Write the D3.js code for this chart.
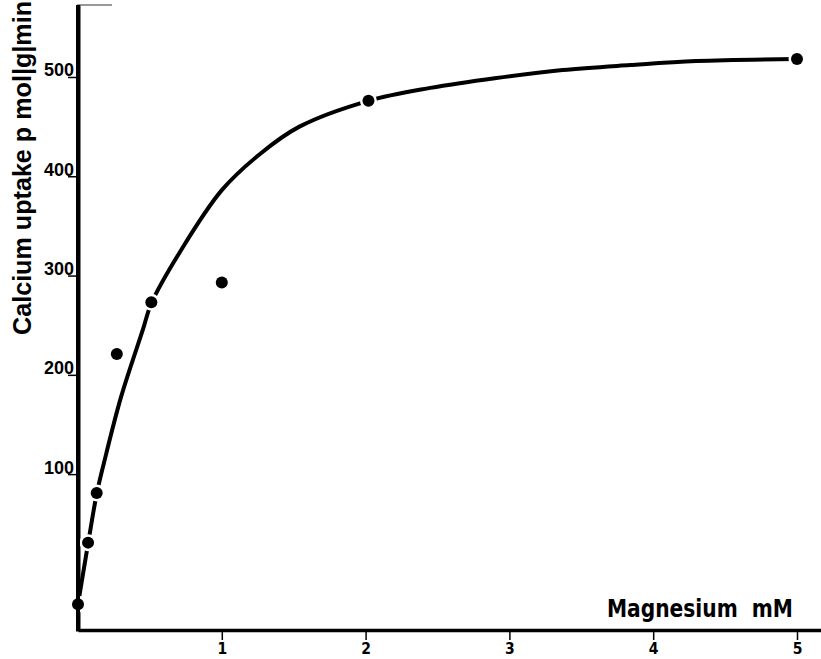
<!DOCTYPE html>
<html>
<head>
<meta charset="utf-8">
<script src="https://cdn.jsdelivr.net/npm/d3@7"></script>
<style>
  html, body { margin: 0; padding: 0; background: #fff; }
  svg { display: block; }
</style>
</head>
<body>
<svg id="chart" width="821" height="659"></svg>
<script>
// Measured uptake (pmol/g/min) at each magnesium concentration (mM)
const magnesium = [0, 0.07, 0.13, 0.27, 0.51, 1.0, 2.02, 5.0];
const uptake    = [-31, 31, 81, 221, 273, 293, 476, 518];

// Hand-fitted saturation curve through the measurements
const curveMg     = [0, 0.07, 0.13, 0.18, 0.30, 0.45, 0.51, 0.71, 1.0, 1.27, 1.54, 2.02, 2.45, 2.91, 3.37, 3.84, 4.30, 5.0];
const curveUptake = [-31, 30, 80, 111, 178, 245, 272, 324, 386, 423, 450, 476, 489, 499, 507, 512, 516, 518];

const xTicks = [1, 2, 3, 4, 5];
const yTicks = [100, 200, 300, 400, 500];

const boldFont = "'Liberation Sans', Arial, Helvetica, sans-serif";
const narrowFont = "'Liberation Sans Narrow', 'DejaVu Sans Condensed', 'Arial Narrow', sans-serif";

const svg = d3.select("#chart");

const x = d3.scaleLinear().domain([0, 5.167]).range([78, 821]);
const y = d3.scaleLinear().domain([-57, 572.5]).range([630, 5]);

// thin frame line along the top
svg.append("line")
  .attr("x1", 77).attr("x2", 112).attr("y1", 5).attr("y2", 5)
  .attr("stroke", "#777").attr("stroke-width", 1.5);

// x axis
const xAxis = svg.append("g")
  .attr("transform", `translate(0,${y.range()[0]})`)
  .call(d3.axisBottom(x).tickValues(xTicks).tickSize(10).tickSizeOuter(0).tickPadding(3).tickFormat(d3.format("d")));
xAxis.select(".domain").attr("stroke", "#000").attr("stroke-width", 3.5);
xAxis.selectAll(".tick line").attr("stroke", "#000").attr("stroke-width", 1.5);
xAxis.selectAll(".tick text")
  .style("font-family", narrowFont).style("font-weight", "bold")
  .style("font-size", "15.5px").attr("fill", "#000");

// y axis: labels sit on top of their tick marks
const yAxis = svg.append("g")
  .attr("transform", `translate(${x(0)},0)`)
  .call(d3.axisLeft(y).tickValues(yTicks).tickSize(10).tickSizeOuter(0).tickFormat(d3.format("d")));
yAxis.select(".domain").attr("stroke", "#000").attr("stroke-width", 4);
yAxis.selectAll(".tick line").attr("stroke", "#000").attr("stroke-width", 1.5);
yAxis.selectAll(".tick text")
  .style("font-family", boldFont).style("font-weight", "bold")
  .style("font-size", "18px").attr("fill", "#000")
  .attr("x", -4).attr("dy", "-1");

// axis titles
svg.append("text")
  .attr("x", 607).attr("y", 617)
  .attr("font-family", narrowFont)
  .attr("font-weight", "bold")
  .attr("font-size", 25)
  .attr("textLength", 186)
  .attr("lengthAdjust", "spacingAndGlyphs")
  .text("Magnesium\u00A0\u00A0mM");

svg.append("text")
  .attr("transform", "translate(31,168) rotate(-90)")
  .attr("text-anchor", "middle")
  .attr("font-family", boldFont)
  .attr("font-weight", "bold")
  .attr("font-size", 25)
  .attr("textLength", 334)
  .attr("lengthAdjust", "spacingAndGlyphs")
  .text("Calcium uptake p mol|g|min");

// fitted curve
const line = d3.line()
  .x((d, i) => x(curveMg[i]))
  .y((d, i) => y(curveUptake[i]))
  .curve(d3.curveCatmullRom.alpha(0.5));
svg.append("path")
  .datum(curveMg)
  .attr("d", line)
  .attr("fill", "none")
  .attr("stroke", "#000")
  .attr("stroke-width", 4)
  .attr("stroke-linecap", "round");

// data points, with a white ring that breaks the curve around each one
const pts = svg.append("g");
pts.selectAll("circle.halo")
  .data(magnesium)
  .join("circle")
  .attr("class", "halo")
  .attr("cx", (d, i) => x(d))
  .attr("cy", (d, i) => y(uptake[i]))
  .attr("r", 8.5)
  .attr("fill", "#fff");
pts.selectAll("circle.dot")
  .data(magnesium)
  .join("circle")
  .attr("class", "dot")
  .attr("cx", (d, i) => x(d))
  .attr("cy", (d, i) => y(uptake[i]))
  .attr("r", 6)
  .attr("fill", "#000");

// redraw the y axis line over the first point
svg.append("line")
  .attr("x1", x(0)).attr("x2", x(0)).attr("y1", 5).attr("y2", 631.5)
  .attr("stroke", "#000").attr("stroke-width", 4);
</script>
</body>
</html>
